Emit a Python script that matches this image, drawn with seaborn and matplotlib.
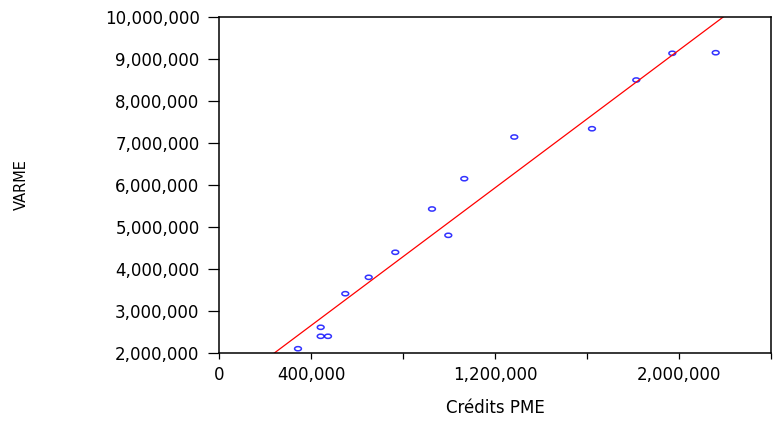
import matplotlib
matplotlib.use('Agg')
from matplotlib import pyplot as plt
from matplotlib.path import Path
from matplotlib.transforms import Affine2D
from matplotlib.ticker import FixedLocator, FixedFormatter
import seaborn as sns

# values
credits_pme = [343500, 442200, 442000, 473900, 549100, 650900, 766500, 926100,
               997000, 1066500, 1283900, 1621700, 1814300, 1970900, 2159600]
varme = [2102000, 2612000, 2398000, 2398000, 3412000, 3802000, 4398000, 5429000,
         4802000, 6150000, 7143000, 7340000, 8500000, 9136000, 9150000]

x_ticks = [0, 400000, 800000, 1200000, 1600000, 2000000, 2400000]
x_labels = ['0', '400,000', '', '1,200,000', '', '2,000,000', '']
y_ticks = [2000000, 3000000, 4000000, 5000000, 6000000,
           7000000, 8000000, 9000000, 10000000]
y_labels = [f'{v:,}' for v in y_ticks]


def main():
    sns.set_style('ticks')
    plt.rcParams['font.family'] = ['DejaVu Sans']

    fig = plt.figure(figsize=(7.73, 4.21), dpi=100)
    ax = fig.add_axes([0.2833, 0.1615, 0.7141, 0.7981])
    ax.set_xlim(0, 2400000)
    ax.set_ylim(2000000, 10000000)

    # flattened circle, the reference markers are wider than tall
    ellipse = Path.unit_circle().transformed(Affine2D().scale(1.0, 0.62))

    sns.regplot(x=credits_pme, y=varme, ax=ax, ci=None, truncate=False,
                marker=ellipse,
                scatter_kws={'s': 24, 'facecolors': 'none',
                             'edgecolors': '#0000ff', 'linewidths': 1.1},
                line_kws={'color': '#ff0000', 'linewidth': 0.9})

    ax.set_xlim(0, 2400000)
    ax.set_ylim(2000000, 10000000)

    ax.xaxis.set_major_locator(FixedLocator(x_ticks))
    ax.xaxis.set_major_formatter(FixedFormatter(x_labels))
    ax.yaxis.set_major_locator(FixedLocator(y_ticks))
    ax.yaxis.set_major_formatter(FixedFormatter(y_labels))

    ax.tick_params(axis='x', direction='out', length=4, width=0.9,
                   pad=5, labelsize=12, colors='black')
    ax.tick_params(axis='y', direction='out', length=8, width=0.9,
                   pad=6, labelsize=12, colors='black')

    for side in ['left', 'right', 'top', 'bottom']:
        ax.spines[side].set_visible(True)
        ax.spines[side].set_color('black')
        ax.spines[side].set_linewidth(1.1)

    ax.set_xlabel('Crédits PME', fontsize=12, labelpad=11, color='black')
    ax.set_ylabel('VARME', fontsize=10.5, color='black')
    ax.yaxis.set_label_coords(-0.345, 0.5)

    fig.savefig('out.png', dpi=100, facecolor='white')


if __name__ == '__main__':
    main()
